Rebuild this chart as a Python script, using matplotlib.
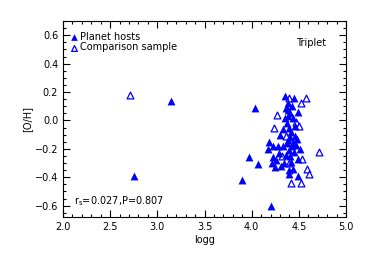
import numpy as np
import matplotlib
matplotlib.use('Agg')
import matplotlib.pyplot as plt
from matplotlib.ticker import MultipleLocator

# planet hosts (filled triangles)
host_logg = [3.15, 2.75, 4.21, 3.90, 3.97, 4.04, 4.07, 4.17, 4.18, 4.22, 4.23, 4.23,
             4.28, 4.30, 4.33, 4.35, 4.36, 4.40, 4.40, 4.40, 4.41, 4.41, 4.43, 4.44,
             4.44, 4.45, 4.46, 4.49, 4.49, 4.49, 4.51, 4.35, 4.37, 4.38, 4.42, 4.45,
             4.33, 4.39, 4.43, 4.47, 4.26, 4.31, 4.36, 4.41, 4.38, 4.34, 4.46, 4.40,
             4.42, 4.37, 4.25, 4.29, 4.48, 4.39, 4.44]
host_oh = [0.14, -0.39, -0.60, -0.42, -0.26, 0.09, -0.31, -0.20, -0.15, -0.30, -0.26, -0.18,
           -0.18, -0.10, -0.18, 0.17, 0.09, -0.05, -0.35, -0.38, 0.05, -0.25, -0.18, 0.02,
           -0.15, 0.16, -0.11, 0.06, -0.27, -0.39, -0.20, 0.02, -0.02, 0.12, -0.08, -0.22,
           -0.06, -0.14, 0.10, -0.17, -0.28, -0.32, -0.24, -0.12, 0.03, -0.30, -0.04, -0.21,
           -0.29, -0.16, -0.33, -0.23, -0.13, 0.07, -0.34]

# comparison sample (open triangles)
comp_logg = [2.71, 4.40, 4.58, 4.52, 4.27, 4.47, 4.24, 4.50, 4.36, 4.71, 4.32, 4.53,
             4.40, 4.59, 4.61, 4.52, 4.42]
comp_oh = [0.18, 0.16, 0.16, 0.12, 0.035, -0.01, -0.05, -0.04, -0.11, -0.22, -0.25, -0.27,
           -0.30, -0.34, -0.38, -0.44, -0.44]

blue = (0, 0, 1)

fig = plt.figure(figsize=(3.65, 2.61), dpi=100)
ax = fig.add_axes([0.1726, 0.1686, 0.7754, 0.7509])

ax.scatter(host_logg, host_oh, marker='^', s=32, color=blue, linewidths=0,
           label='Planet hosts', zorder=3)
ax.scatter(comp_logg, comp_oh, marker='^', s=24, facecolors='white', edgecolors=blue,
           linewidths=0.9, label='Comparison sample', zorder=2)

ax.set_xlim(2.0, 5.0)
ax.set_ylim(-0.68, 0.70)
ax.xaxis.set_major_locator(MultipleLocator(0.5))
ax.xaxis.set_minor_locator(MultipleLocator(0.1))
ax.yaxis.set_major_locator(MultipleLocator(0.2))
ax.yaxis.set_minor_locator(MultipleLocator(0.05))
ax.tick_params(which='both', direction='in', top=True, right=True, labelsize=7, width=0.8)
ax.tick_params(which='major', length=5)
ax.tick_params(which='minor', length=2.5)
for sp in ax.spines.values():
    sp.set_linewidth(0.8)

ax.set_xlabel('logg', fontsize=7, labelpad=2)
ax.set_ylabel('[O/H]', fontsize=7, labelpad=2)

ax.legend(loc='upper left', bbox_to_anchor=(0.0, 0.98), frameon=False, fontsize=7,
          handlelength=0.8, handletextpad=0.3, borderaxespad=0.3, labelspacing=0.05,
          scatterpoints=1, markerscale=0.85)
ax.text(0.93, 0.89, 'Triplet', transform=ax.transAxes, fontsize=7, ha='right', va='center')
ax.text(0.04, 0.08, r'r$_\mathregular{s}$=0.027,P=0.807', transform=ax.transAxes,
        fontsize=7, ha='left', va='center')

fig.savefig('out.png', dpi=100)
